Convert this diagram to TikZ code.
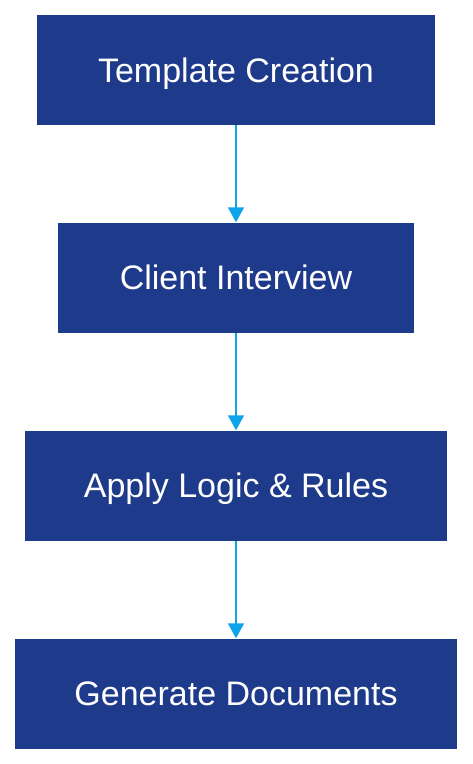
\documentclass[tikz,border=0pt]{standalone}
\usepackage{fontspec}
\setmainfont{Liberation Sans}
\usetikzlibrary{arrows.meta}
\definecolor{boxblue}{HTML}{1E3A8A}
\definecolor{arrowblue}{HTML}{0EA5E9}
\tikzset{stepbox/.style={fill=boxblue,text=white,minimum height=110pt,inner sep=0pt,text height=24pt,text depth=0pt,font=\fontsize{34}{40}\selectfont},
flow/.style={arrowblue,line width=2pt,-{Triangle[width=16pt,length=15pt]}}}

\begin{document}
\begin{tikzpicture}[x=1pt,y=-1pt]
\useasboundingbox (0,0) rectangle (472,764);
\node[stepbox,minimum width=398pt] (tc) at (236,70) {Template Creation};
\node[stepbox,minimum width=356pt] (ci) at (236,277.5) {Client Interview};
\node[stepbox,minimum width=422pt] (al) at (236,485.5) {Apply Logic \& Rules};
\node[stepbox,minimum width=442pt] (gd) at (236,693.5) {Generate Documents};
\draw[flow] (tc)--(ci); \draw[flow] (ci)--(al); \draw[flow] (al)--(gd);
\end{tikzpicture}
\end{document}
